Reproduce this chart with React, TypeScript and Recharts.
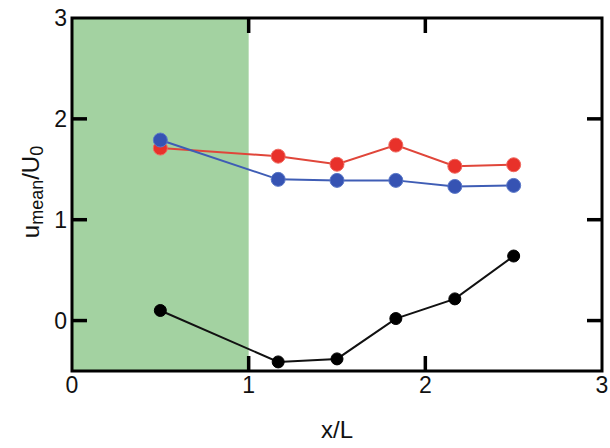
import React from "react";
import {
  ComposedChart,
  Line,
  XAxis,
  YAxis,
  ReferenceArea,
  ReferenceLine,
} from "recharts";

const xPos = [0.5, 1.167, 1.5, 1.833, 2.167, 2.5];
const redValues = [1.71, 1.63, 1.55, 1.74, 1.53, 1.545];
const blueValues = [1.79, 1.4, 1.39, 1.39, 1.33, 1.34];
const blackValues = [0.1, -0.41, -0.38, 0.02, 0.215, 0.64];
const xTicks = [0, 1, 2, 3];
const yTicks = [0, 1, 2, 3];

const X_MIN = 0;
const X_MAX = 3;
const Y_MIN = -0.5;
const Y_MAX = 3;

const data = xPos.map((x, i) => ({
  x,
  red: redValues[i],
  blue: blueValues[i],
  black: blackValues[i],
}));

const font = "'Liberation Sans', Arial, sans-serif";
const W = 610;
const H = 448;
const margin = { top: 18, right: 8, left: 0, bottom: 0 };
const Y_AXIS_W = 72;
const X_AXIS_H = 77;
// inward tick length, px -> data units
const plotW = W - margin.left - margin.right - Y_AXIS_W;
const plotH = H - margin.top - margin.bottom - X_AXIS_H;
const xTickLen = (15 * (Y_MAX - Y_MIN)) / plotH;
const yTickLen = (15 * (X_MAX - X_MIN)) / plotW;

const innerX = xTicks.filter((t) => t > X_MIN && t < X_MAX);
const innerY = yTicks.filter((t) => t > Y_MIN && t < Y_MAX);

const XTick = (props: any) => {
  const { x, y, payload } = props;
  return (
    <text x={x} y={y + 16} textAnchor="middle" fontFamily={font} fontSize={23} fill="#111">
      {String(payload.value)}
    </text>
  );
};

const YTick = (props: any) => {
  const { x, y, payload } = props;
  return (
    <text x={x} y={y + 8} textAnchor="end" fontFamily={font} fontSize={23} fill="#111">
      {String(payload.value)}
    </text>
  );
};

const YLabel = () => {
  const cx = 30;
  const cy = 192;
  return (
    <text
      x={cx}
      y={cy}
      transform={`rotate(-90, ${cx}, ${cy})`}
      textAnchor="middle"
      fontFamily={font}
      fontSize={24}
      fill="#111"
      dominantBaseline="central"
    >
      u
      <tspan fontSize={18} dy={7}>mean</tspan>
      <tspan dy={-7}>/U</tspan>
      <tspan fontSize={18} dy={7}>0</tspan>
    </text>
  );
};

const tickStroke = { stroke: "#000", strokeWidth: 3.5, ifOverflow: "visible" as const };

export default function App() {
  return (
    <div style={{ width: W, height: H, background: "#fff" }}>
      <style>{"body{margin:0}"}</style>
      <ComposedChart width={W} height={H} data={data} margin={margin}>
        <ReferenceArea
          x1={0}
          x2={1}
          y1={Y_MIN}
          y2={Y_MAX}
          fill="#a3d2a1"
          fillOpacity={1}
          stroke="none"
        />
        <XAxis
          type="number"
          dataKey="x"
          domain={[X_MIN, X_MAX]}
          ticks={xTicks}
          allowDataOverflow
          height={X_AXIS_H}
          axisLine={false}
          tickLine={false}
          tickSize={0}
          tickMargin={6}
          tick={<XTick />}
          label={{
            value: "x/L",
            position: "insideBottom",
            offset: 10,
            fill: "#111",
            fontSize: 24,
            fontFamily: font,
          }}
        />
        <YAxis
          type="number"
          domain={[Y_MIN, Y_MAX]}
          ticks={yTicks}
          allowDataOverflow
          width={Y_AXIS_W}
          axisLine={false}
          tickLine={false}
          tickSize={0}
          tickMargin={5}
          tick={<YTick />}
          label={{ content: <YLabel /> }}
        />
        {innerX.map((t) => (
          <ReferenceLine key={`xb${t}`} segment={[{ x: t, y: Y_MIN }, { x: t, y: Y_MIN + xTickLen }]} {...tickStroke} />
        ))}
        {innerX.map((t) => (
          <ReferenceLine key={`xt${t}`} segment={[{ x: t, y: Y_MAX }, { x: t, y: Y_MAX - xTickLen }]} {...tickStroke} />
        ))}
        {innerY.map((t) => (
          <ReferenceLine key={`yl${t}`} segment={[{ x: X_MIN, y: t }, { x: X_MIN + yTickLen, y: t }]} {...tickStroke} />
        ))}
        {innerY.map((t) => (
          <ReferenceLine key={`yr${t}`} segment={[{ x: X_MAX, y: t }, { x: X_MAX - yTickLen, y: t }]} {...tickStroke} />
        ))}
        <Line
          dataKey="red"
          stroke="#e0463a"
          strokeWidth={2}
          dot={{ r: 7, fill: "#e8312a", stroke: "#f06a60", strokeWidth: 1 }}
          isAnimationActive={false}
        />
        <Line
          dataKey="blue"
          stroke="#3f5db5"
          strokeWidth={2}
          dot={{ r: 7, fill: "#3653b3", stroke: "#5a78c8", strokeWidth: 1 }}
          isAnimationActive={false}
        />
        <Line
          dataKey="black"
          stroke="#111"
          strokeWidth={2}
          dot={{ r: 6, fill: "#000", stroke: "#000", strokeWidth: 1 }}
          isAnimationActive={false}
        />
        <ReferenceArea
          x1={X_MIN}
          x2={X_MAX}
          y1={Y_MIN}
          y2={Y_MAX}
          fill="none"
          stroke="#000"
          strokeWidth={3}
          ifOverflow="visible"
        />
      </ComposedChart>
    </div>
  );
}
